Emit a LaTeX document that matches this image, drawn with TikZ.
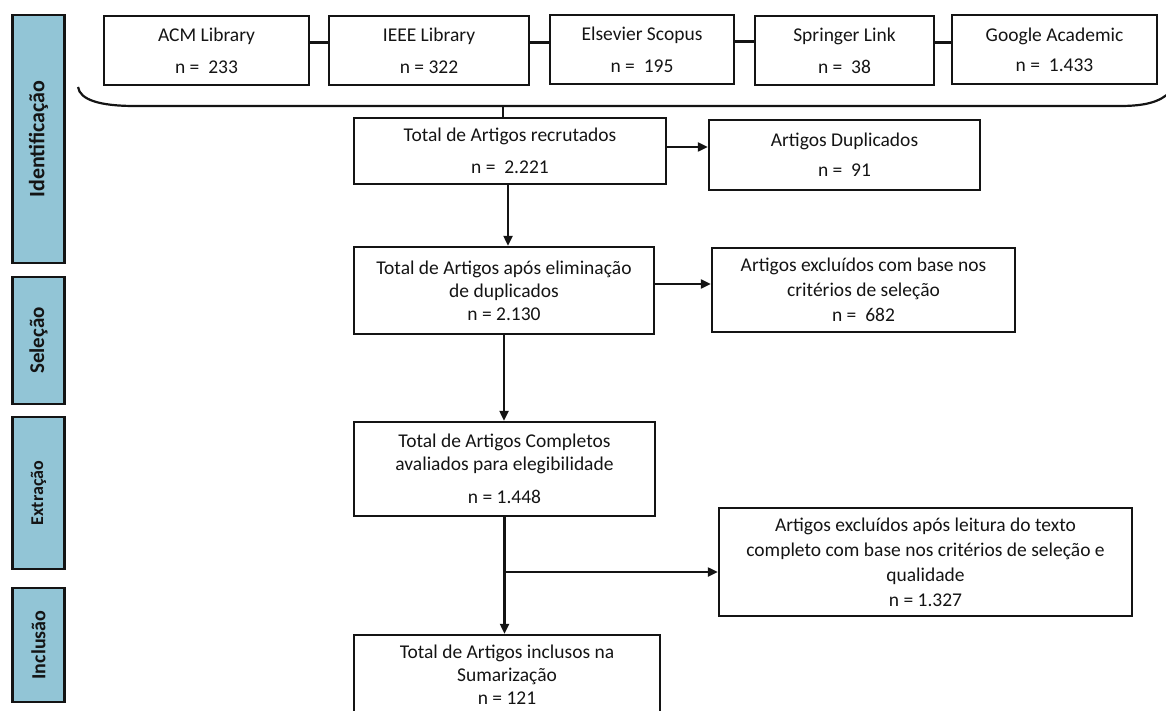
\documentclass[tikz,border=0pt]{standalone}
\usepackage{fontspec}
\setmainfont{Carlito}
\usetikzlibrary{arrows.meta}
\definecolor{side}{RGB}{146,197,214}
\definecolor{ink}{RGB}{20,20,20}
\begin{document}
\begin{tikzpicture}[x=1pt,y=-1pt]
\tikzset{
 box/.style={draw=ink, text=ink, line width=2.4pt, inner sep=0pt, align=center, font=\fontsize{19.5}{23}\selectfont},
 sidebox/.style={draw=ink, fill=side, text=ink, line width=2.8pt, inner sep=0pt, rotate=90, minimum height=52pt},
 arr/.style={draw=ink, line width=2.2pt, -{Triangle[length=10pt,width=9pt]}},
 ln/.style={draw=ink, line width=2.2pt},
}
\useasboundingbox (0,0) rectangle (1166,711);
% sidebars
\node[sidebox, minimum width=248pt, font=\bfseries\fontsize{22}{26}\selectfont] (ident) at (38.5,139) {Identificação};
\node[sidebox, minimum width=127pt, font=\bfseries\fontsize{21}{25}\selectfont] (sel) at (38.5,340.5) {Seleção};
\node[sidebox, minimum width=152pt, font=\bfseries\fontsize{18}{21}\selectfont] (ext) at (38.5,493) {Extração};
\node[sidebox, minimum width=114pt, font=\bfseries\fontsize{20}{24}\selectfont] (inc) at (38.5,645) {Inclusão};
% top sources
\node[box, minimum width=205pt, minimum height=69pt] (acm) at (206.5,50.5) {ACM Library\\[9pt]n =\ \ 233};
\node[box, minimum width=200pt, minimum height=69pt] (ieee) at (429,50.5) {IEEE Library\\[9pt]n = 322};
\node[box, minimum width=184pt, minimum height=69pt] (els) at (642,49.5) {Elsevier Scopus\\[9pt]n =\ \ 195};
\node[box, minimum width=179pt, minimum height=69pt] (spr) at (844.5,50.5) {Springer Link\\[9pt]n =\ \ 38};
\node[box, minimum width=205pt, minimum height=69pt] (goo) at (1054.5,49.5) {Google Academic\\[7pt]n =\ \ 1.433};
\draw[ln] ([yshift=8pt]acm.east) -- ([yshift=8pt]acm.east -| ieee.west);
\draw[ln] ([yshift=8pt]ieee.east) -- ([yshift=8pt]ieee.east -| els.west);
\draw[ln] ([yshift=8pt]els.east) -- ([yshift=8pt]els.east -| spr.west);
\draw[ln] ([yshift=8pt]spr.east) -- ([yshift=8pt]spr.east -| goo.west);
% brace
\coordinate (bl) at (78,87);
\coordinate (br) at (1170,92);
\coordinate (bt) at (503,106);
\draw[ln] (bl) .. controls (80,100) and (100,106) .. (135,106) -- (1120,106) .. controls (1145,106) and (1160,102) .. (br);
% flow
\node[box, minimum width=312pt, minimum height=66pt] (tot) at (510,151) {Total de Artigos recrutados\\[9pt]n =\ \ 2.221};
\draw[ln] (bt) -- (bt |- tot.north);
\node[box, minimum width=271pt, minimum height=70pt] (dup) at (844.5,155) {Artigos Duplicados\\[7pt]n =\ \ 91};
\draw[arr] ([yshift=4pt]tot.east) -- ([yshift=4pt]tot.east -| dup.west);
\node[box, minimum width=300pt, minimum height=87pt] (elim) at (504,290.5) {Total de Artigos após eliminação\\de duplicados\\n = 2.130};
\draw[arr] ([xshift=-2pt]tot.south) -- ([xshift=-2pt]tot.south |- elim.north);
\node[box, minimum width=303pt, minimum height=84pt, font=\fontsize{19.5}{25}\selectfont] (exc) at (863.5,290) {Artigos excluídos com base nos\\critérios de seleção\\n =\ \ 682};
\draw[arr] ([yshift=6.5pt]elim.east) -- ([yshift=6.5pt]elim.east -| exc.west);
\node[box, minimum width=301pt, minimum height=94pt] (comp) at (504.5,469) {Total de Artigos Completos\\avaliados para elegibilidade\\[10pt]n = 1.448};
\draw[arr] (elim.south) -- (elim.south |- comp.north);
\node[box, minimum width=306pt, minimum height=80pt] (incl) at (507,675) {Total de Artigos inclusos na\\Sumarização\\n = 121};
\draw[arr] (comp.south) -- (comp.south |- incl.north);
\node[box, minimum width=413pt, minimum height=108pt, font=\fontsize{19.5}{25}\selectfont] (exc2) at (925.5,562) {Artigos excluídos após leitura do texto\\completo com base nos critérios de seleção e\\qualidade\\n = 1.327};
\coordinate (bj) at (504.5,572);
\draw[arr] (bj) -- (bj -| exc2.west);
\end{tikzpicture}
\end{document}
